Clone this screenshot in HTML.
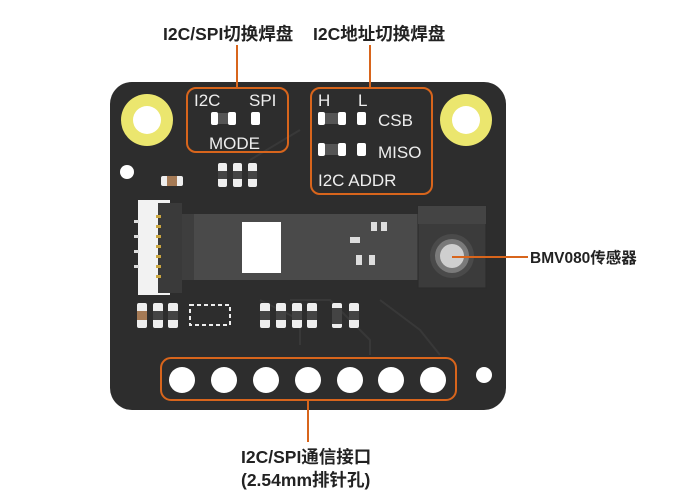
<!DOCTYPE html>
<html><head><meta charset="utf-8"><style>
html,body{margin:0;padding:0;background:#fff;}
svg{display:block;}
text{font-family:"Liberation Sans","Noto Sans CJK SC",sans-serif;}
</style></head><body>
<svg width="700" height="493" viewBox="0 0 700 493" xmlns="http://www.w3.org/2000/svg">
<rect x="110" y="82" width="396" height="328" rx="22" fill="#2d2d2d"/>
<g stroke="#383838" stroke-width="2" fill="none">
<path d="M260 300 L300 320 L300 345"/><path d="M290 300 L330 300 L370 340 L370 355"/>
<path d="M380 300 L420 330 L440 355"/><path d="M250 160 L300 130"/>
</g>
<circle cx="147" cy="120" r="26" fill="#ebe66e"/><circle cx="147" cy="120" r="14" fill="#fff"/>
<circle cx="466" cy="120" r="26" fill="#ebe66e"/><circle cx="466" cy="120" r="14" fill="#fff"/>
<circle cx="127" cy="172" r="7" fill="#fff"/>
<circle cx="484" cy="375" r="8" fill="#fff"/>
<rect x="187" y="88" width="101" height="64" rx="9" fill="none" stroke="#d8651c" stroke-width="2"/>
<line x1="237" y1="45" x2="237" y2="88" stroke="#d8651c" stroke-width="2"/>
<text x="194" y="106" font-size="17" fill="#eee">I2C</text>
<text x="249" y="106" font-size="17" fill="#eee">SPI</text>
<g fill="#fff"><rect x="211" y="112" width="7" height="13" rx="2"/><rect x="218" y="113" width="12" height="11" fill="#555"/><rect x="228" y="112" width="8" height="13" rx="2"/><rect x="251" y="112" width="9" height="13" rx="2"/></g>
<text x="209" y="149" font-size="17" fill="#eee">MODE</text>
<rect x="311" y="88" width="121" height="106" rx="9" fill="none" stroke="#d8651c" stroke-width="2"/>
<line x1="370" y1="45" x2="370" y2="88" stroke="#d8651c" stroke-width="2"/>
<text x="318" y="106" font-size="17" fill="#eee">H</text>
<text x="358" y="106" font-size="17" fill="#eee">L</text>
<g fill="#fff"><rect x="318" y="112" width="7" height="13" rx="2"/><rect x="325" y="113" width="14" height="11" fill="#555"/><rect x="338" y="112" width="8" height="13" rx="2"/><rect x="357" y="112" width="9" height="13" rx="2"/>
<rect x="318" y="143" width="7" height="13" rx="2"/><rect x="325" y="144" width="14" height="11" fill="#555"/><rect x="338" y="143" width="8" height="13" rx="2"/><rect x="357" y="143" width="9" height="13" rx="2"/></g>
<text x="378" y="126" font-size="17" fill="#eee">CSB</text>
<text x="378" y="158" font-size="17" fill="#eee">MISO</text>
<text x="318" y="186" font-size="17" fill="#eee">I2C ADDR</text>
<g fill="#eee"><rect x="218" y="163" width="9" height="24" rx="2"/><rect x="233" y="163" width="9" height="24" rx="2"/><rect x="248" y="163" width="9" height="24" rx="2"/></g>
<g fill="#444"><rect x="218" y="171" width="9" height="8"/><rect x="233" y="171" width="9" height="8"/><rect x="248" y="171" width="9" height="8"/></g>
<rect x="161" y="176" width="22" height="10" rx="2" fill="#eee"/><rect x="167" y="176" width="10" height="10" fill="#a57a55"/>
<rect x="138" y="200" width="32" height="95" fill="#f2f2f2"/>
<rect x="158" y="203" width="24" height="90" fill="#3a3a3a"/>
<g fill="#c9a640"><rect x="156" y="215" width="5" height="3"/><rect x="156" y="225" width="5" height="3"/><rect x="156" y="235" width="5" height="3"/><rect x="156" y="245" width="5" height="3"/><rect x="156" y="255" width="5" height="3"/><rect x="156" y="265" width="5" height="3"/><rect x="156" y="275" width="5" height="3"/></g>
<g fill="#ddd"><rect x="134" y="220" width="5" height="3"/><rect x="134" y="235" width="5" height="3"/><rect x="134" y="250" width="5" height="3"/><rect x="134" y="265" width="5" height="3"/></g>
<rect x="182" y="214" width="238" height="66" fill="#4a4a4a"/>
<rect x="182" y="214" width="12" height="66" fill="#3e3e3e"/>
<rect x="242" y="222" width="39" height="51" fill="#fff"/>
<g fill="#ddd"><rect x="371" y="222" width="6" height="9"/><rect x="381" y="222" width="6" height="9"/><rect x="350" y="237" width="10" height="6"/><rect x="356" y="255" width="6" height="10"/><rect x="369" y="255" width="6" height="10"/></g>
<rect x="418" y="206" width="68" height="82" fill="#3b3b3b" stroke="#2a2a2a"/>
<rect x="418" y="206" width="68" height="18" fill="#444"/>
<circle cx="452" cy="256" r="22" fill="#4a4a4a"/>
<circle cx="452" cy="256" r="17" fill="#7a7a7a"/>
<circle cx="452" cy="256" r="12" fill="#cfcfcf"/>
<line x1="452" y1="257" x2="528" y2="257" stroke="#d8651c" stroke-width="2"/>
<text x="530" y="263" font-size="15.5" font-weight="bold" fill="#222">BMV080传感器</text>
<g fill="#eee">
<rect x="137" y="303" width="10" height="25" rx="2"/><rect x="153" y="303" width="10" height="25" rx="2"/><rect x="168" y="303" width="10" height="25" rx="2"/>
<rect x="260" y="303" width="10" height="25" rx="2"/><rect x="276" y="303" width="10" height="25" rx="2"/><rect x="292" y="303" width="10" height="25" rx="2"/><rect x="307" y="303" width="10" height="25" rx="2"/>
<rect x="332" y="303" width="10" height="25" rx="2"/><rect x="349" y="303" width="10" height="25" rx="2"/>
</g>
<g fill="#444"><rect x="137" y="311" width="10" height="9" fill="#a57a55"/><rect x="153" y="311" width="10" height="9"/><rect x="168" y="311" width="10" height="9"/><rect x="260" y="311" width="10" height="9"/><rect x="276" y="311" width="10" height="9"/><rect x="292" y="311" width="10" height="9"/><rect x="307" y="311" width="10" height="9"/><rect x="332" y="308" width="10" height="16"/><rect x="349" y="311" width="10" height="9"/></g>
<rect x="190" y="305" width="40" height="20" fill="none" stroke="#eee" stroke-width="2" stroke-dasharray="4 3"/>
<rect x="161" y="358" width="295" height="42" rx="10" fill="none" stroke="#d8651c" stroke-width="2"/>
<g fill="#fff"><circle cx="182" cy="380" r="13"/><circle cx="224" cy="380" r="13"/><circle cx="266" cy="380" r="13"/><circle cx="308" cy="380" r="13"/><circle cx="350" cy="380" r="13"/><circle cx="391" cy="380" r="13"/><circle cx="433" cy="380" r="13"/></g>
<line x1="308" y1="400" x2="308" y2="442" stroke="#d8651c" stroke-width="2"/>
<text x="163" y="40" font-size="17.5" font-weight="bold" fill="#222">I2C/SPI切换焊盘</text>
<text x="313" y="40" font-size="17.5" font-weight="bold" fill="#222">I2C地址切换焊盘</text>
<text x="241" y="463" font-size="17.5" font-weight="bold" fill="#222">I2C/SPI通信接口</text>
<text x="241" y="486" font-size="17.5" font-weight="bold" fill="#222">(2.54mm排针孔)</text>
</svg>
</body></html>
